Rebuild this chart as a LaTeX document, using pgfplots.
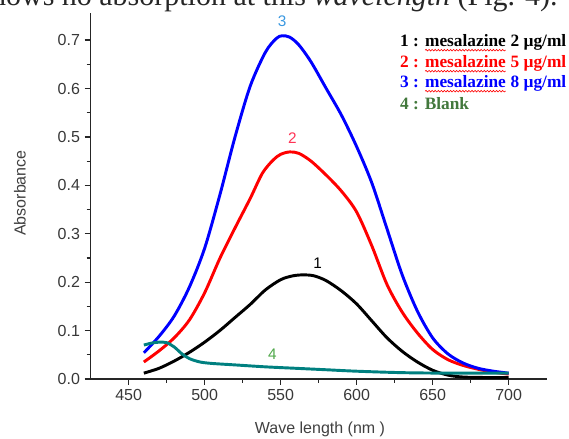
\documentclass[border=0pt]{standalone}
\usepackage{fontspec}
\setmainfont{Liberation Serif}
\setsansfont{Liberation Sans}
\usepackage{pgfplots}
\pgfplotsset{compat=1.18}
\usetikzlibrary{decorations.pathmorphing}

\definecolor{tealline}{RGB}{0,128,128}
\definecolor{lblthree}{RGB}{58,152,224}
\definecolor{lbltwo}{RGB}{255,51,85}
\definecolor{lblfour}{RGB}{80,168,74}
\definecolor{blankgreen}{RGB}{66,120,60}

% red spell-check squiggle under a word
\newcommand{\squig}[2]{\tikz[baseline=(w.base)]{\node[inner sep=0pt,outer sep=0pt,text=#1](w){#2};
  \draw[red,line width=0.45pt,decorate,decoration={snake,amplitude=0.6pt,segment length=2.3pt}]
  ([yshift=-2.4pt]w.base west)--([yshift=-2.4pt]w.base east);}}

\begin{document}
\begin{tikzpicture}
\useasboundingbox (-68pt,-45pt) rectangle (358.8pt,284.25pt);
\begin{axis}[
  at={(0,0)}, anchor=south west,
  scale only axis, width=342pt, height=274.5pt,
  xmin=425, xmax=725, ymin=0, ymax=0.756,
  axis x line*=bottom, axis y line*=left,
  axis line style={line width=1.1pt, black!85},
  xtick={450,500,...,700}, ytick={0,0.1,...,0.7},
  minor x tick num=1, minor y tick num=1,
  tick align=outside, major tick length=4.5pt, minor tick length=3pt,
  tick style={line width=0.9pt, black!85},
  /pgf/number format/assume math mode=true,
  ticklabel style={font=\sffamily\fontsize{12}{14}\selectfont, text=black!78},
  yticklabel style={/pgf/number format/.cd, fixed, fixed zerofill, precision=1},
  xlabel={Wave length (nm )}, ylabel={Absorbance},
  every axis x label/.style={at={(axis description cs:0.503,-0.139)}, anchor=center,
    font=\sffamily\fontsize{12}{14}\selectfont, text=black!75},
  every axis y label/.style={at={(axis description cs:-0.155,0.508)}, rotate=90, anchor=center,
    font=\sffamily\fontsize{12}{14}\selectfont, text=black!75},
  clip=false,
]

% 1 : mesalazine 2 ug/ml
\addplot[black, line width=2.2pt, smooth] coordinates {
(460,0.012)(470,0.022)(480,0.037)(490,0.055)(500,0.076)(510,0.100)(520,0.127)
(530,0.154)(540,0.184)(550,0.205)(558,0.213)(565,0.215)(572,0.213)(580,0.203)
(590,0.182)(600,0.155)(610,0.120)(620,0.085)(630,0.057)(640,0.035)(650,0.018)
(660,0.008)(670,0.004)(685,0.003)(700,0.003)};

% 2 : mesalazine 5 ug/ml
\addplot[red, line width=2.2pt, smooth] coordinates {
(460,0.035)(470,0.058)(480,0.085)(490,0.122)(500,0.178)(510,0.249)(520,0.312)
(530,0.373)(538,0.425)(545,0.452)(550,0.464)(556,0.469)(562,0.466)(570,0.450)
(580,0.421)(590,0.388)(600,0.345)(610,0.275)(620,0.195)(630,0.138)(640,0.095)
(650,0.061)(660,0.040)(670,0.028)(680,0.020)(690,0.014)(700,0.010)};

% 3 : mesalazine 8 ug/ml
\addplot[blue, line width=2.2pt, smooth] coordinates {
(460,0.054)(470,0.088)(480,0.130)(490,0.190)(500,0.270)(510,0.380)(520,0.500)
(530,0.605)(540,0.675)(547,0.703)(551,0.709)(556,0.706)(562,0.690)(570,0.655)
(580,0.600)(590,0.545)(600,0.480)(610,0.405)(620,0.310)(630,0.215)(640,0.140)
(650,0.085)(660,0.052)(670,0.033)(680,0.022)(690,0.016)(700,0.012)};

% 4 : Blank
\addplot[tealline, line width=2.2pt, smooth] coordinates {
(460,0.070)(465,0.074)(470,0.076)(475,0.075)(480,0.066)(485,0.052)(490,0.042)
(497,0.035)(505,0.032)(520,0.029)(540,0.025)(560,0.022)(580,0.019)(600,0.016)
(630,0.013)(660,0.012)(700,0.012)};

\node[text=lblthree, font=\sffamily\fontsize{11.5}{13}\selectfont] at (axis cs:551,0.738) {3};
\node[text=lbltwo, font=\sffamily\fontsize{11.5}{13}\selectfont] at (axis cs:557.8,0.498) {2};
\node[text=black, font=\sffamily\fontsize{11.5}{13}\selectfont] at (axis cs:574.3,0.240) {1};
\node[text=lblfour, font=\sffamily\fontsize{11.5}{13}\selectfont] at (axis cs:544.6,0.052) {4};
\end{axis}

% legend written as text
\begin{scope}[every node/.style={anchor=base west, inner sep=0pt, font=\bfseries\fontsize{13}{15}\selectfont}]
\node[text=black] at (232pt,249pt) {1 : \squig{black}{mesalazine} 2 µg/ml};
\node[text=red] at (232pt,233.25pt) {2 : \squig{red}{mesalazine} 5 µg/ml};
\node[text=blue] at (232pt,218.25pt) {3 : \squig{blue}{mesalazine} 8 µg/ml};
\node[text=blankgreen] at (232pt,201.75pt) {4 : Blank};
\end{scope}

% caption line of the page above, cut by the picture's edge
\node[anchor=base east, inner sep=0pt, font=\fontsize{22.5}{27}\selectfont, text=black!85]
  at (350.5pt,280pt) {shows no absorption at this \textit{wavelength} (Fig. 4).};
\end{tikzpicture}
\end{document}
